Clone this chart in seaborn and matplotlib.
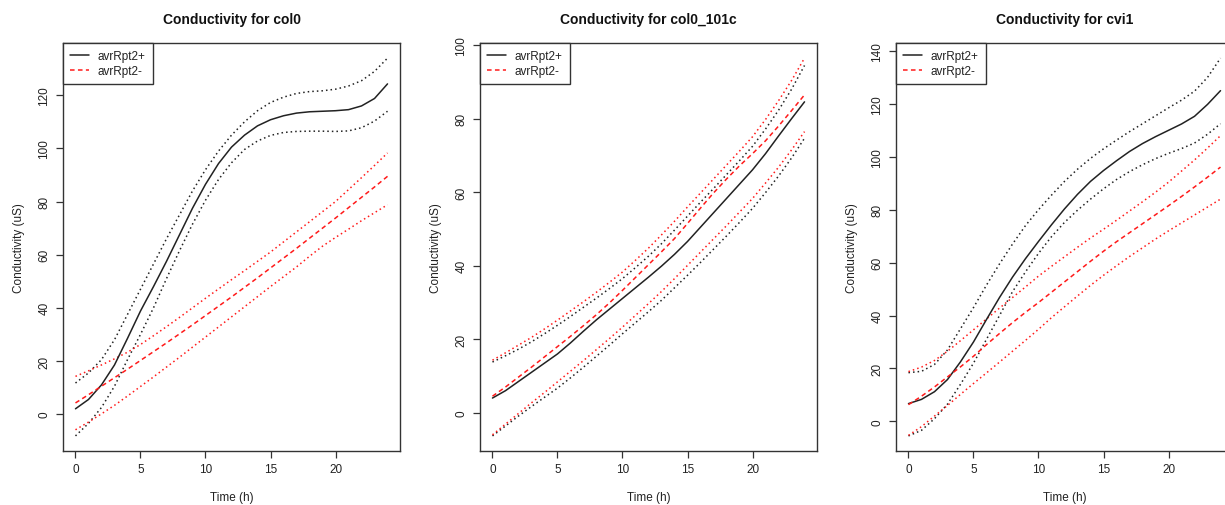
import numpy as np
import pandas as pd
import matplotlib
matplotlib.use("Agg")
import matplotlib.pyplot as plt
from matplotlib.ticker import MultipleLocator
import seaborn as sns

# ---------------- data ----------------
time_h = list(range(25))

titles = ["Conductivity for col0", "Conductivity for col0_101c", "Conductivity for cvi1"]
series_labels = ["avrRpt2+", "avrRpt2-"]
x_ticks = [0, 5, 10, 15, 20]

# col0
col0_pos_mean = [2.0, 5.5, 11.0, 18.5, 28.5, 38.8, 48.0, 57.5, 67.5, 77.5, 86.5, 94.3, 100.5,
                 105.0, 108.5, 110.8, 112.3, 113.3, 113.8, 114.0, 114.2, 114.6, 116.0, 118.8, 124.3]
col0_pos_upper = [11.7, 15.5, 20.5, 28.0, 37.5, 47.0, 56.5, 66.0, 75.0, 84.0, 92.0, 99.0, 105.0,
                  110.0, 114.2, 117.3, 119.3, 120.7, 121.4, 121.7, 122.3, 123.5, 125.5, 129.0, 134.0]
col0_pos_lower = [-8.2, -3.5, 2.5, 10.5, 20.5, 30.0, 40.0, 51.0, 61.5, 71.5, 80.5, 88.3, 94.6,
                  99.6, 102.8, 104.9, 106.0, 106.4, 106.5, 106.5, 106.4, 106.6, 107.8, 110.3, 114.0]
col0_neg_mean = [4.2, 7.3, 10.5, 13.7, 16.9, 20.2, 23.5, 26.8, 30.2, 33.6, 37.1, 40.6, 44.1,
                 47.7, 51.3, 55.0, 58.7, 62.4, 66.2, 70.0, 73.8, 77.7, 81.6, 85.5, 89.5]
col0_neg_upper = [14.2, 16.3, 18.5, 20.8, 23.3, 26.2, 29.5, 32.9, 36.4, 40.0, 43.6, 47.1, 50.6,
                  54.0, 57.5, 61.0, 64.8, 68.6, 72.4, 76.2, 80.0, 84.5, 89.0, 93.6, 98.3]
col0_neg_lower = [-5.9, -3.0, 0.1, 3.3, 6.8, 10.4, 14.0, 17.7, 21.4, 25.2, 29.0, 32.8, 36.6,
                  40.4, 44.2, 48.0, 51.7, 55.4, 59.4, 63.2, 66.5, 69.6, 72.8, 75.8, 78.8]

# col0_101c
c101_pos_mean = [4.0, 6.0, 8.5, 11.0, 13.5, 16.0, 19.0, 22.2, 25.3, 28.2, 31.1, 34.0, 36.9,
                 39.9, 43.1, 46.6, 50.5, 54.4, 58.3, 62.2, 66.1, 70.5, 75.3, 80.0, 84.6]
c101_pos_upper = [13.8, 15.5, 17.3, 19.3, 21.5, 23.8, 26.2, 28.7, 31.2, 33.8, 36.5, 39.5, 42.6,
                  46.0, 49.7, 53.5, 57.3, 61.0, 64.8, 68.6, 72.5, 77.2, 82.3, 88.0, 94.5]
c101_pos_lower = [-6.3, -3.6, -0.9, 1.7, 4.2, 6.7, 9.5, 12.4, 15.4, 18.4, 21.5, 24.5, 27.5,
                  30.6, 34.0, 37.4, 40.9, 44.5, 48.1, 51.8, 55.6, 59.9, 64.4, 69.3, 74.7]
c101_neg_mean = [4.5, 7.0, 9.7, 12.4, 15.2, 18.0, 20.8, 23.7, 26.7, 29.9, 33.3, 36.8, 40.3,
                 43.8, 47.4, 51.5, 55.7, 59.8, 63.6, 67.2, 70.5, 74.0, 78.0, 82.2, 86.5]
c101_neg_upper = [14.3, 16.3, 18.4, 20.5, 22.8, 25.2, 27.7, 30.2, 32.8, 35.5, 38.3, 41.5, 44.8,
                  48.4, 52.1, 56.0, 59.8, 63.6, 67.4, 71.2, 75.1, 79.8, 84.9, 90.4, 96.5]
c101_neg_lower = [-6.0, -3.1, -0.2, 2.7, 5.5, 8.4, 11.3, 14.2, 17.2, 20.2, 23.3, 26.5, 29.7,
                  33.0, 36.5, 40.1, 43.7, 47.3, 50.9, 54.6, 58.3, 62.5, 66.8, 71.5, 76.5]

# cvi1
cvi1_pos_mean = [6.7, 8.3, 11.2, 15.8, 22.5, 30.0, 38.5, 46.8, 54.5, 61.5, 68.0, 74.3, 80.3,
                 85.8, 90.7, 94.8, 98.5, 102.0, 105.0, 107.6, 110.0, 112.4, 115.3, 119.8, 125.0]
cvi1_pos_upper = [18.4, 18.9, 21.5, 27.0, 35.0, 43.0, 51.5, 59.5, 67.0, 74.0, 80.0, 85.5, 90.7,
                  95.3, 99.4, 103.0, 106.3, 109.5, 112.5, 115.5, 118.5, 121.4, 124.8, 130.0, 137.3]
cvi1_pos_lower = [-5.5, -3.4, 1.0, 6.5, 14.0, 22.0, 31.0, 40.0, 49.0, 56.5, 63.5, 69.8, 75.2,
                  79.8, 84.0, 87.9, 91.4, 94.4, 97.0, 99.3, 101.3, 103.1, 105.2, 108.5, 112.5]
cvi1_neg_mean = [6.3, 9.5, 13.0, 16.8, 20.6, 24.6, 29.0, 33.2, 37.3, 41.2, 44.9, 48.8, 52.7,
                 56.6, 60.5, 64.3, 67.9, 71.3, 74.7, 78.1, 81.5, 85.0, 88.6, 92.3, 96.1]
cvi1_neg_upper = [18.8, 20.5, 23.0, 26.5, 30.5, 34.6, 38.7, 42.8, 46.8, 50.8, 54.9, 58.6, 62.2,
                  65.8, 69.3, 72.6, 76.0, 79.5, 83.0, 86.6, 90.4, 94.6, 98.8, 103.3, 108.0]
cvi1_neg_lower = [-5.3, -2.0, 2.0, 6.0, 10.2, 14.3, 18.3, 22.4, 26.5, 30.6, 34.8, 39.2, 43.3,
                  47.4, 51.4, 55.2, 58.8, 62.3, 65.6, 68.9, 72.0, 75.0, 78.0, 81.0, 84.0]

panels = [
    (col0_pos_mean, col0_pos_upper, col0_pos_lower, col0_neg_mean, col0_neg_upper, col0_neg_lower),
    (c101_pos_mean, c101_pos_upper, c101_pos_lower, c101_neg_mean, c101_neg_upper, c101_neg_lower),
    (cvi1_pos_mean, cvi1_pos_upper, cvi1_pos_lower, cvi1_neg_mean, cvi1_neg_upper, cvi1_neg_lower),
]

# ---------------- style ----------------
sns.set_theme(style="ticks")
plt.rcParams["font.family"] = ["Liberation Sans", "DejaVu Sans"]
plt.rcParams["axes.edgecolor"] = "#333333"
plt.rcParams["axes.linewidth"] = 1.0

W, H = 1225, 506
fig = plt.figure(figsize=(W / 100, H / 100), dpi=100)
fig.patch.set_facecolor("white")

lefts = [63, 480, 896]
bottom_px, top_px = 452, 44
width_px = 337

DOTTED = (0, (1, 2.0))
DASHED = (0, (3.0, 2.2))
LW = 1.1

for i, (pm, pu, pl, nm, nu, nl) in enumerate(panels):
    ax = fig.add_axes([lefts[i] / W, 1 - bottom_px / H, width_px / W, (bottom_px - top_px) / H])
    ax.set_facecolor("white")

    sns.lineplot(x=time_h, y=pu, ax=ax, color="#222222", linewidth=LW, linestyle=DOTTED, errorbar=None)
    sns.lineplot(x=time_h, y=pl, ax=ax, color="#222222", linewidth=LW, linestyle=DOTTED, errorbar=None)
    sns.lineplot(x=time_h, y=nu, ax=ax, color="#ff1a1a", linewidth=LW, linestyle=DOTTED, errorbar=None)
    sns.lineplot(x=time_h, y=nl, ax=ax, color="#ff1a1a", linewidth=LW, linestyle=DOTTED, errorbar=None)
    sns.lineplot(x=time_h, y=pm, ax=ax, color="#222222", linewidth=LW, linestyle="-",
                 errorbar=None, label=series_labels[0])
    sns.lineplot(x=time_h, y=nm, ax=ax, color="#ff1a1a", linewidth=LW, linestyle=DASHED,
                 errorbar=None, label=series_labels[1])

    ax.margins(x=0.04, y=0.04)
    ax.yaxis.set_major_locator(MultipleLocator(20))
    ax.set_xticks(x_ticks)

    for side in ["top", "right", "left", "bottom"]:
        ax.spines[side].set_visible(True)
        ax.spines[side].set_color("#333333")
        ax.spines[side].set_linewidth(1.0)

    ax.tick_params(axis="both", which="major", direction="out", length=5, width=0.9,
                   color="#333333", labelsize=8.5, labelcolor="#222222", pad=4)
    ax.tick_params(axis="y", labelrotation=90)
    for lab in ax.get_yticklabels():
        lab.set_va("center")

    ax.set_xlabel("Time (h)", fontsize=8.5, color="#222222")
    ax.set_ylabel("Conductivity (uS)", fontsize=8.5, color="#222222")
    ax.xaxis.set_label_coords(0.5, -0.098)
    ax.yaxis.set_label_coords(-0.113, 0.5)

    ax.set_title(titles[i], fontsize=10, fontweight="bold", color="#111111", pad=14.4)

    handles, labels = ax.get_legend_handles_labels()
    leg = ax.legend(handles, labels, loc="upper left", bbox_to_anchor=(0, 1),
                    borderaxespad=0, frameon=True, fancybox=False, framealpha=1,
                    edgecolor="#333333", fontsize=8.5, handlelength=1.6,
                    handletextpad=0.75, borderpad=0.6, labelspacing=0.22)
    leg.get_frame().set_linewidth(1.0)
    for t in leg.get_texts():
        t.set_color("#222222")

fig.savefig("out.png", dpi=100, facecolor="white")
